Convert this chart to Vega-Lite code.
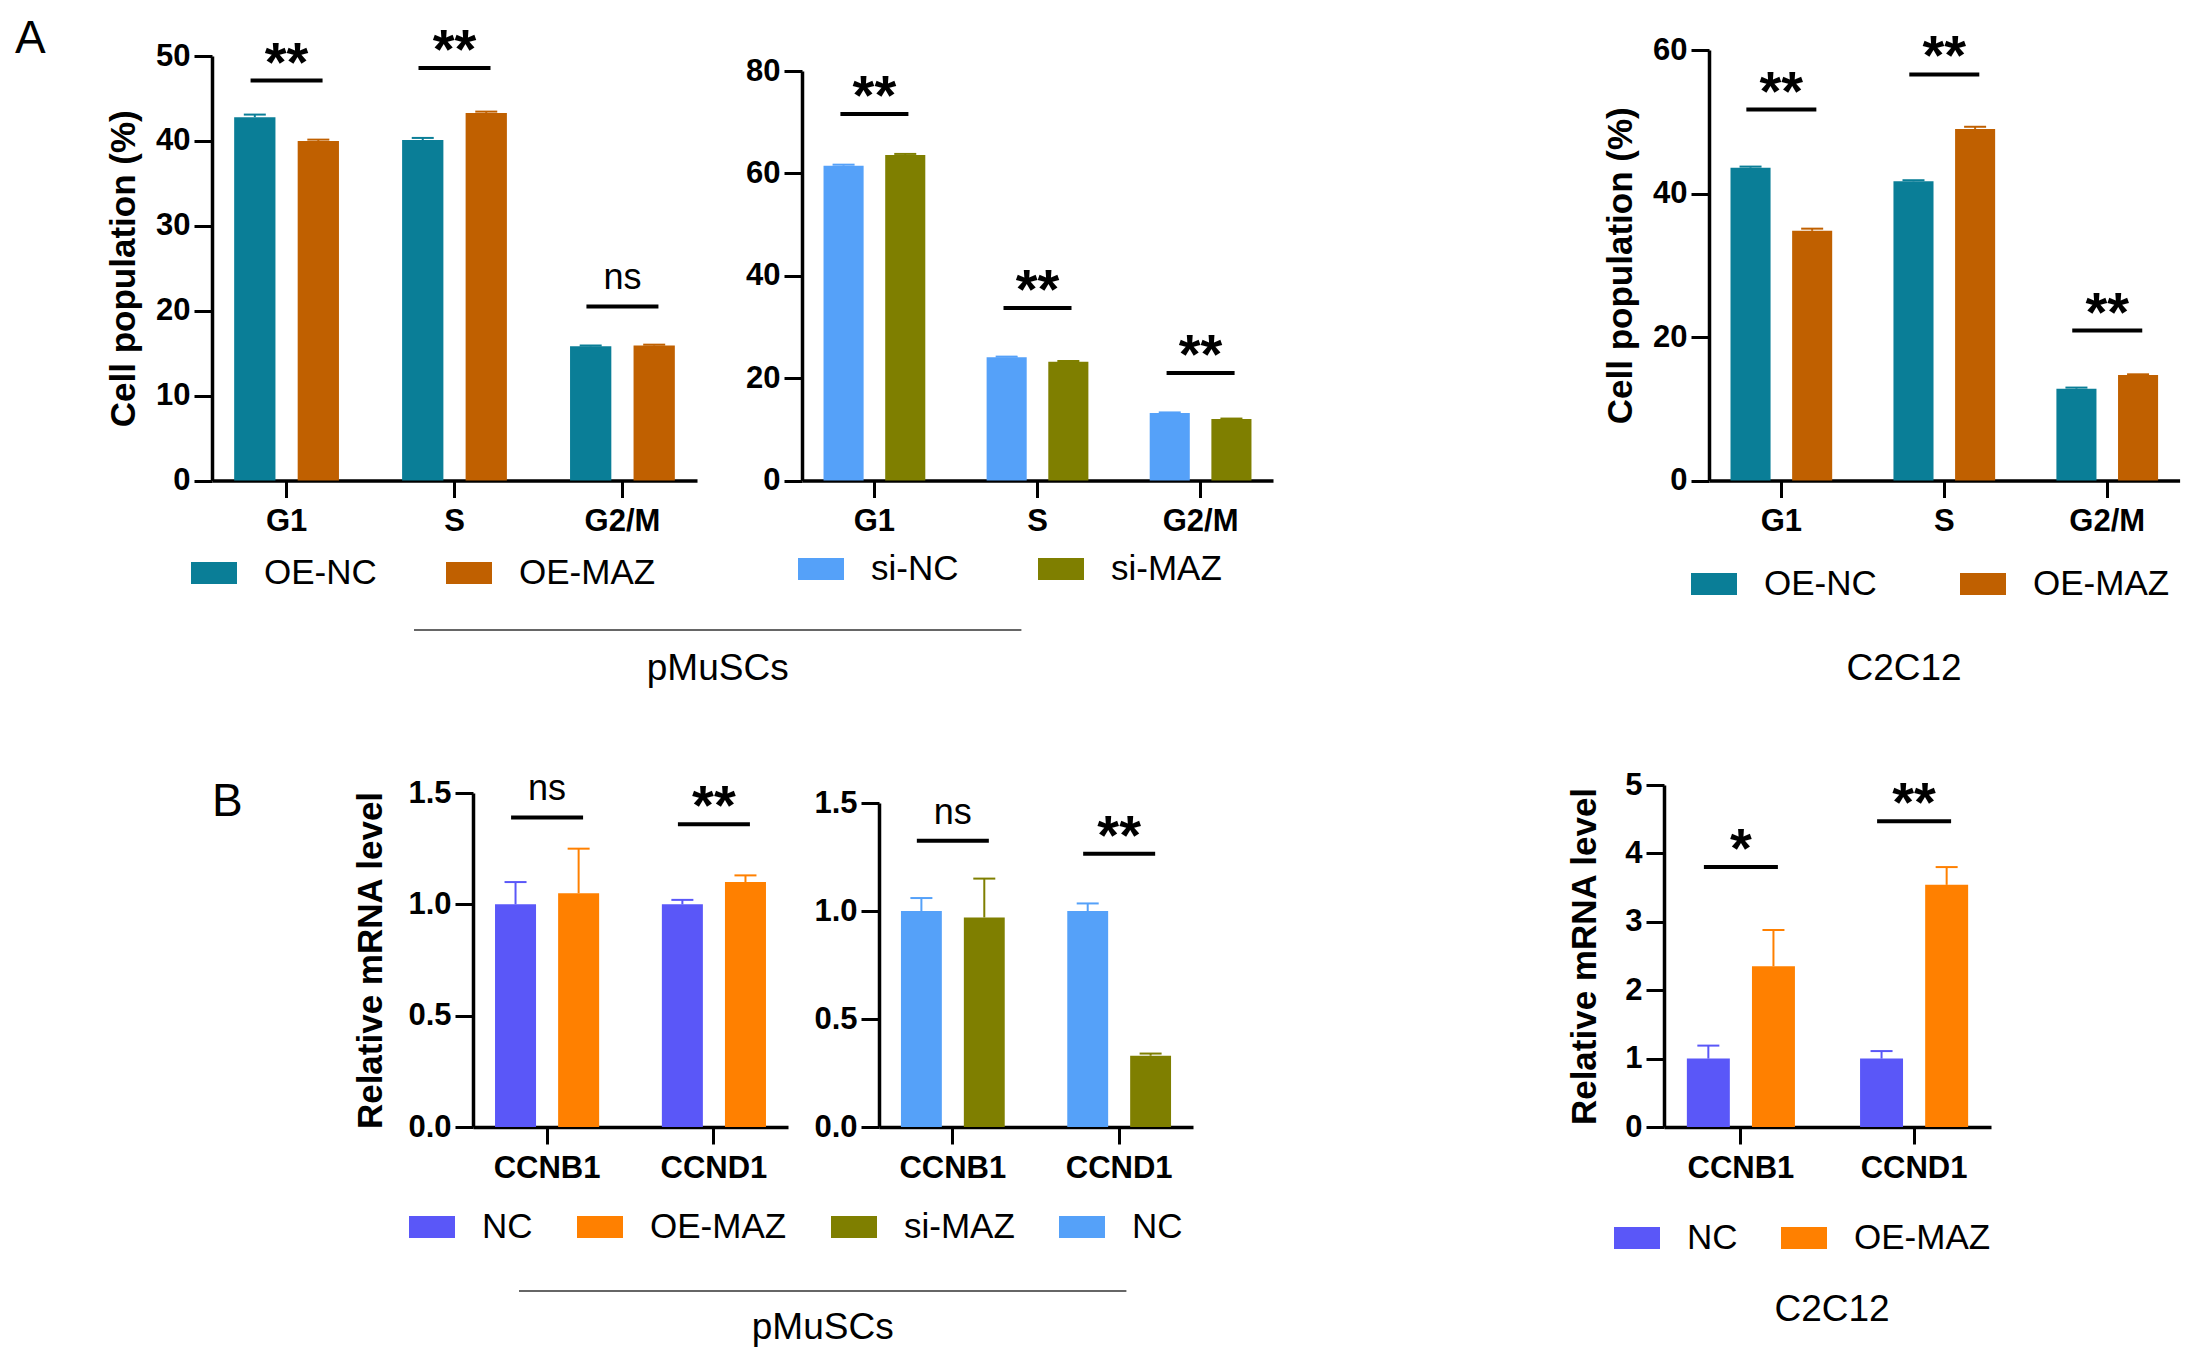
{
  "$schema": "https://vega.github.io/schema/vega-lite/v6.json",
  "background": "white",
  "padding": {"left": 15, "top": 15, "right": 5, "bottom": 5},
  "config": {
    "font": "Liberation Sans",
    "view": {"stroke": null},
    "axis": {
      "grid": false,
      "domainColor": "black",
      "domainWidth": 3.5,
      "tickColor": "black",
      "tickWidth": 3,
      "labelColor": "black",
      "labelFont": "Liberation Sans",
      "labelFontWeight": "bold",
      "labelFontSize": 31,
      "titleColor": "black",
      "titleFont": "Liberation Sans",
      "titleFontWeight": "bold",
      "titleFontSize": 35
    },
    "axisX": {"tickSize": 17, "labelPadding": 9, "labelAngle": 0},
    "axisY": {"tickSize": 18, "labelPadding": 4, "titlePadding": 14},
    "legend": {
      "direction": "horizontal",
      "symbolType": "M-1,-0.48H1V0.48H-1Z",
      "symbolSize": 2116,
      "symbolStrokeWidth": 0,
      "symbolOpacity": 1,
      "labelFont": "Liberation Sans",
      "labelFontSize": 35,
      "labelColor": "black",
      "labelOffset": 27,
      "labelLimit": 0,
      "padding": 0
    },
    "title": {"font": "Liberation Sans", "color": "black"}
  },
  "resolve": {"scale": {"color": "independent", "xOffset": "independent", "x": "independent", "y": "independent"}, "legend": {"color": "independent"}},
  "spacing": 82,
  "vconcat": [
    {
      "spacing": 27,
      "resolve": {"scale": {"color": "independent", "xOffset": "independent", "x": "independent", "y": "independent"}, "legend": {"color": "independent"}},
      "vconcat": [
        {
          "spacing": 0,
          "bounds": "flush",
          "resolve": {"scale": {"color": "independent", "xOffset": "independent", "x": "independent", "y": "independent"}, "legend": {"color": "independent"}},
          "hconcat": [
            {
              "width": 485,
              "height": 430.5,
              "title": {"text": "A", "anchor": "start", "frame": "group", "orient": "top", "offset": 0, "dx": -197, "dy": 76, "fontSize": 46, "fontWeight": "normal", "baseline": "alphabetic"},
              "data": {"values": [
                {"phase": "G1", "group": "OE-NC", "value": 42.8, "upper": 43.1},
                {"phase": "G1", "group": "OE-MAZ", "value": 40.0, "upper": 40.15},
                {"phase": "S", "group": "OE-NC", "value": 40.1, "upper": 40.35},
                {"phase": "S", "group": "OE-MAZ", "value": 43.3, "upper": 43.45},
                {"phase": "G2/M", "group": "OE-NC", "value": 15.8, "upper": 15.9},
                {"phase": "G2/M", "group": "OE-MAZ", "value": 15.9, "upper": 16.0}
              ]},
              "encoding": {
                "x": {"field": "phase", "type": "nominal", "sort": ["G1", "S", "G2/M"], "scale": {"paddingInner": 0.376, "paddingOuter": 0.132}, "axis": {"title": null}}
              },
              "layer": [
                {
                  "mark": {"type": "bar"},
                  "encoding": {
                    "xOffset": {"field": "group", "type": "nominal", "sort": ["OE-NC", "OE-MAZ"], "scale": {"paddingInner": 0.35, "paddingOuter": 0}},
                    "y": {"field": "value", "type": "quantitative", "scale": {"domain": [0, 50], "range": [430.5, 6], "nice": false, "zero": false}, "axis": {"title": "Cell population (%)", "values": [0, 10, 20, 30, 40, 50]}},
                    "color": {"field": "group", "type": "nominal", "scale": {"domain": ["OE-NC", "OE-MAZ"], "range": ["#0A7E97", "#C06000"]}, "legend": {"title": null, "orient": "none", "legendX": -21, "legendY": 500, "columnPadding": 69}}
                  }
                },
                {
                  "mark": {"type": "rule", "strokeWidth": 2},
                  "encoding": {
                    "xOffset": {"field": "group", "type": "nominal", "sort": ["OE-NC", "OE-MAZ"], "scale": {"paddingInner": 0.35, "paddingOuter": 0}},
                    "y": {"field": "value", "type": "quantitative", "scale": {"domain": [0, 50], "range": [430.5, 6], "nice": false, "zero": false}, "axis": {"title": "Cell population (%)", "values": [0, 10, 20, 30, 40, 50]}},
                    "y2": {"field": "upper"},
                    "color": {"field": "group", "type": "nominal", "scale": {"domain": ["OE-NC", "OE-MAZ"], "range": ["#0A7E97", "#C06000"]}, "legend": {"title": null, "orient": "none", "legendX": -21, "legendY": 500, "columnPadding": 69}}
                  }
                },
                {
                  "mark": {"type": "tick", "size": 22, "thickness": 2, "opacity": 1},
                  "encoding": {
                    "xOffset": {"field": "group", "type": "nominal", "sort": ["OE-NC", "OE-MAZ"], "scale": {"paddingInner": 0.35, "paddingOuter": 0}},
                    "y": {"field": "upper", "type": "quantitative", "scale": {"domain": [0, 50], "range": [430.5, 6], "nice": false, "zero": false}, "axis": {"title": "Cell population (%)", "values": [0, 10, 20, 30, 40, 50]}},
                    "color": {"field": "group", "type": "nominal", "scale": {"domain": ["OE-NC", "OE-MAZ"], "range": ["#0A7E97", "#C06000"]}, "legend": {"title": null, "orient": "none", "legendX": -21, "legendY": 500, "columnPadding": 69}}
                  }
                },
                {
                  "data": {"values": [
                    {"phase": "G1", "y": 47.1, "label": "**"},
                    {"phase": "S", "y": 48.6, "label": "**"},
                    {"phase": "G2/M", "y": 20.5, "label": "ns"}
                  ]},
                  "layer": [
                    {
                      "mark": {"type": "tick", "size": 72, "thickness": 4, "color": "black", "opacity": 1},
                      "encoding": {"y": {"field": "y", "type": "quantitative", "scale": {"domain": [0, 50], "range": [430.5, 6], "nice": false, "zero": false}, "axis": {"title": "Cell population (%)", "values": [0, 10, 20, 30, 40, 50]}}}
                    },
                    {
                      "transform": [{"filter": "datum.label != 'ns'"}],
                      "mark": {"type": "text", "fontSize": 56, "fontWeight": "bold", "baseline": "alphabetic", "dy": 0, "color": "black"},
                      "encoding": {"y": {"field": "y", "type": "quantitative", "scale": {"domain": [0, 50], "range": [430.5, 6], "nice": false, "zero": false}, "axis": {"title": "Cell population (%)", "values": [0, 10, 20, 30, 40, 50]}}, "text": {"field": "label"}}
                    },
                    {
                      "transform": [{"filter": "datum.label == 'ns'"}],
                      "mark": {"type": "text", "fontSize": 36, "baseline": "alphabetic", "dy": -17, "color": "black"},
                      "encoding": {"y": {"field": "y", "type": "quantitative", "scale": {"domain": [0, 50], "range": [430.5, 6], "nice": false, "zero": false}, "axis": {"title": "Cell population (%)", "values": [0, 10, 20, 30, 40, 50]}}, "text": {"field": "label"}}
                    }
                  ]
                }
              ]
            },
            {"width": 104.8, "height": 1, "data": {"values": []}, "mark": "point", "encoding": {}},
            {
              "width": 471,
              "height": 430.5,
              "data": {"values": [
                {"phase": "G1", "group": "si-NC", "value": 61.5, "upper": 61.7},
                {"phase": "G1", "group": "si-MAZ", "value": 63.6, "upper": 63.8},
                {"phase": "S", "group": "si-NC", "value": 24.1, "upper": 24.2},
                {"phase": "S", "group": "si-MAZ", "value": 23.2, "upper": 23.35},
                {"phase": "G2/M", "group": "si-NC", "value": 13.2, "upper": 13.3},
                {"phase": "G2/M", "group": "si-MAZ", "value": 12.0, "upper": 12.1}
              ]},
              "encoding": {
                "x": {"field": "phase", "type": "nominal", "sort": ["G1", "S", "G2/M"], "scale": {"paddingInner": 0.376, "paddingOuter": 0.132}, "axis": {"title": null}}
              },
              "layer": [
                {
                  "mark": {"type": "bar"},
                  "encoding": {
                    "xOffset": {"field": "group", "type": "nominal", "sort": ["si-NC", "si-MAZ"], "scale": {"paddingInner": 0.35, "paddingOuter": 0}},
                    "y": {"field": "value", "type": "quantitative", "scale": {"domain": [0, 80], "range": [430.5, 21], "nice": false, "zero": false}, "axis": {"title": null, "values": [0, 20, 40, 60, 80]}},
                    "color": {"field": "group", "type": "nominal", "scale": {"domain": ["si-NC", "si-MAZ"], "range": ["#55A1F9", "#7F7F00"]}, "legend": {"title": null, "orient": "none", "legendX": -4, "legendY": 496, "columnPadding": 79}}
                  }
                },
                {
                  "mark": {"type": "rule", "strokeWidth": 2},
                  "encoding": {
                    "xOffset": {"field": "group", "type": "nominal", "sort": ["si-NC", "si-MAZ"], "scale": {"paddingInner": 0.35, "paddingOuter": 0}},
                    "y": {"field": "value", "type": "quantitative", "scale": {"domain": [0, 80], "range": [430.5, 21], "nice": false, "zero": false}, "axis": {"title": null, "values": [0, 20, 40, 60, 80]}},
                    "y2": {"field": "upper"},
                    "color": {"field": "group", "type": "nominal", "scale": {"domain": ["si-NC", "si-MAZ"], "range": ["#55A1F9", "#7F7F00"]}, "legend": {"title": null, "orient": "none", "legendX": -4, "legendY": 496, "columnPadding": 79}}
                  }
                },
                {
                  "mark": {"type": "tick", "size": 22, "thickness": 2, "opacity": 1},
                  "encoding": {
                    "xOffset": {"field": "group", "type": "nominal", "sort": ["si-NC", "si-MAZ"], "scale": {"paddingInner": 0.35, "paddingOuter": 0}},
                    "y": {"field": "upper", "type": "quantitative", "scale": {"domain": [0, 80], "range": [430.5, 21], "nice": false, "zero": false}, "axis": {"title": null, "values": [0, 20, 40, 60, 80]}},
                    "color": {"field": "group", "type": "nominal", "scale": {"domain": ["si-NC", "si-MAZ"], "range": ["#55A1F9", "#7F7F00"]}, "legend": {"title": null, "orient": "none", "legendX": -4, "legendY": 496, "columnPadding": 79}}
                  }
                },
                {
                  "data": {"values": [
                    {"phase": "G1", "y": 71.6, "label": "**"},
                    {"phase": "S", "y": 33.7, "label": "**"},
                    {"phase": "G2/M", "y": 21.0, "label": "**"}
                  ]},
                  "layer": [
                    {
                      "mark": {"type": "tick", "size": 68, "thickness": 4, "color": "black", "opacity": 1},
                      "encoding": {"y": {"field": "y", "type": "quantitative", "scale": {"domain": [0, 80], "range": [430.5, 21], "nice": false, "zero": false}, "axis": {"title": null, "values": [0, 20, 40, 60, 80]}}}
                    },
                    {
                      "mark": {"type": "text", "fontSize": 56, "fontWeight": "bold", "baseline": "alphabetic", "dy": 0, "color": "black"},
                      "encoding": {"y": {"field": "y", "type": "quantitative", "scale": {"domain": [0, 80], "range": [430.5, 21], "nice": false, "zero": false}, "axis": {"title": null, "values": [0, 20, 40, 60, 80]}}, "text": {"field": "label"}}
                    }
                  ]
                }
              ]
            },
            {"width": 435.4, "height": 1, "data": {"values": []}, "mark": "point", "encoding": {}},
            {
              "width": 470.6,
              "height": 430.5,
              "data": {"values": [
                {"phase": "G1", "group": "OE-NC", "value": 43.6, "upper": 43.75},
                {"phase": "G1", "group": "OE-MAZ", "value": 34.8, "upper": 35.1},
                {"phase": "S", "group": "OE-NC", "value": 41.7, "upper": 41.85},
                {"phase": "S", "group": "OE-MAZ", "value": 49.0, "upper": 49.3},
                {"phase": "G2/M", "group": "OE-NC", "value": 12.8, "upper": 12.95},
                {"phase": "G2/M", "group": "OE-MAZ", "value": 14.7, "upper": 14.8}
              ]},
              "encoding": {
                "x": {"field": "phase", "type": "nominal", "sort": ["G1", "S", "G2/M"], "scale": {"paddingInner": 0.376, "paddingOuter": 0.132}, "axis": {"title": null}}
              },
              "layer": [
                {
                  "mark": {"type": "bar"},
                  "encoding": {
                    "xOffset": {"field": "group", "type": "nominal", "sort": ["OE-NC", "OE-MAZ"], "scale": {"paddingInner": 0.35, "paddingOuter": 0}},
                    "y": {"field": "value", "type": "quantitative", "scale": {"domain": [0, 60], "range": [430.5, 0], "nice": false, "zero": false}, "axis": {"title": "Cell population (%)", "values": [0, 20, 40, 60]}},
                    "color": {"field": "group", "type": "nominal", "scale": {"domain": ["OE-NC", "OE-MAZ"], "range": ["#0A7E97", "#C06000"]}, "legend": {"title": null, "orient": "none", "legendX": -18, "legendY": 511, "columnPadding": 83}}
                  }
                },
                {
                  "mark": {"type": "rule", "strokeWidth": 2},
                  "encoding": {
                    "xOffset": {"field": "group", "type": "nominal", "sort": ["OE-NC", "OE-MAZ"], "scale": {"paddingInner": 0.35, "paddingOuter": 0}},
                    "y": {"field": "value", "type": "quantitative", "scale": {"domain": [0, 60], "range": [430.5, 0], "nice": false, "zero": false}, "axis": {"title": "Cell population (%)", "values": [0, 20, 40, 60]}},
                    "y2": {"field": "upper"},
                    "color": {"field": "group", "type": "nominal", "scale": {"domain": ["OE-NC", "OE-MAZ"], "range": ["#0A7E97", "#C06000"]}, "legend": {"title": null, "orient": "none", "legendX": -18, "legendY": 511, "columnPadding": 83}}
                  }
                },
                {
                  "mark": {"type": "tick", "size": 22, "thickness": 2, "opacity": 1},
                  "encoding": {
                    "xOffset": {"field": "group", "type": "nominal", "sort": ["OE-NC", "OE-MAZ"], "scale": {"paddingInner": 0.35, "paddingOuter": 0}},
                    "y": {"field": "upper", "type": "quantitative", "scale": {"domain": [0, 60], "range": [430.5, 0], "nice": false, "zero": false}, "axis": {"title": "Cell population (%)", "values": [0, 20, 40, 60]}},
                    "color": {"field": "group", "type": "nominal", "scale": {"domain": ["OE-NC", "OE-MAZ"], "range": ["#0A7E97", "#C06000"]}, "legend": {"title": null, "orient": "none", "legendX": -18, "legendY": 511, "columnPadding": 83}}
                  }
                },
                {
                  "data": {"values": [
                    {"phase": "G1", "y": 51.7, "label": "**"},
                    {"phase": "S", "y": 56.6, "label": "**"},
                    {"phase": "G2/M", "y": 20.9, "label": "**"}
                  ]},
                  "layer": [
                    {
                      "mark": {"type": "tick", "size": 70, "thickness": 4, "color": "black", "opacity": 1},
                      "encoding": {"y": {"field": "y", "type": "quantitative", "scale": {"domain": [0, 60], "range": [430.5, 0], "nice": false, "zero": false}, "axis": {"title": "Cell population (%)", "values": [0, 20, 40, 60]}}}
                    },
                    {
                      "mark": {"type": "text", "fontSize": 56, "fontWeight": "bold", "baseline": "alphabetic", "dy": 0, "color": "black"},
                      "encoding": {"y": {"field": "y", "type": "quantitative", "scale": {"domain": [0, 60], "range": [430.5, 0], "nice": false, "zero": false}, "axis": {"title": "Cell population (%)", "values": [0, 20, 40, 60]}}, "text": {"field": "label"}}
                    }
                  ]
                }
              ]
            }
          ]
        },
        {
          "spacing": 0,
          "bounds": "flush",
          "hconcat": [
            {"width": 201.4, "height": 1, "data": {"values": []}, "mark": "point", "encoding": {}},
            {
              "width": 607.4,
              "height": 50,
              "data": {"values": [{"name": "pMuSCs"}]},
              "layer": [
                {
                  "mark": {"type": "rule", "color": "#333333", "strokeWidth": 1.6},
                  "encoding": {
                    "x": {"datum": 0, "type": "quantitative", "scale": {"domain": [0, 1]}, "axis": null},
                    "x2": {"datum": 1},
                    "y": {"datum": 1, "type": "quantitative", "scale": {"domain": [0, 1]}, "axis": null}
                  }
                },
                {
                  "mark": {"type": "text", "fontSize": 37, "baseline": "alphabetic", "align": "center", "color": "black"},
                  "encoding": {
                    "x": {"datum": 0.5, "type": "quantitative", "scale": {"domain": [0, 1]}, "axis": null},
                    "y": {"datum": 0, "type": "quantitative", "scale": {"domain": [0, 1]}, "axis": null},
                    "text": {"field": "name"}
                  }
                }
              ]
            },
            {"width": 781.1, "height": 1, "data": {"values": []}, "mark": "point", "encoding": {}},
            {
              "width": 200,
              "height": 50,
              "data": {"values": [{"name": "C2C12"}]},
              "mark": {"type": "text", "fontSize": 37, "baseline": "alphabetic", "align": "center", "color": "black"},
              "encoding": {
                "x": {"datum": 0.5, "type": "quantitative", "scale": {"domain": [0, 1]}, "axis": null},
                "y": {"datum": 0, "type": "quantitative", "scale": {"domain": [0, 1]}, "axis": null},
                "text": {"field": "name"}
              }
            }
          ]
        }
      ]
    },
    {
      "spacing": 34,
      "resolve": {"scale": {"color": "independent", "xOffset": "independent", "x": "independent", "y": "independent"}, "legend": {"color": "independent"}},
      "vconcat": [
        {
          "spacing": 0,
          "bounds": "flush",
          "resolve": {"scale": {"color": "independent", "xOffset": "independent", "x": "independent", "y": "independent"}, "legend": {"color": "independent"}},
          "hconcat": [
            {
              "width": 260.4,
              "height": 1,
              "title": {"text": "B", "anchor": "start", "frame": "group", "orient": "top", "offset": 0, "dy": 41, "baseline": "top", "fontSize": 46, "fontWeight": "normal"},
              "data": {"values": []},
              "mark": "point",
              "encoding": {}
            },
            {
              "width": 315,
              "height": 342,
              "data": {"values": [
                {"gene": "CCNB1", "group": "NC", "value": 1.0, "upper": 1.1},
                {"gene": "CCNB1", "group": "OE-MAZ", "value": 1.05, "upper": 1.25},
                {"gene": "CCND1", "group": "NC", "value": 1.0, "upper": 1.02},
                {"gene": "CCND1", "group": "OE-MAZ", "value": 1.1, "upper": 1.13}
              ]},
              "encoding": {
                "x": {"field": "gene", "type": "nominal", "sort": ["CCNB1", "CCND1"], "scale": {"paddingInner": 0.376, "paddingOuter": 0.132}, "axis": {"title": null}}
              },
              "layer": [
                {
                  "mark": {"type": "bar"},
                  "encoding": {
                    "xOffset": {"field": "group", "type": "nominal", "sort": ["NC", "OE-MAZ"], "scale": {"paddingInner": 0.35, "paddingOuter": 0}},
                    "y": {"field": "value", "type": "quantitative", "scale": {"domain": [0, 1.5], "range": [342, 8], "nice": false, "zero": false}, "axis": {"title": "Relative mRNA level", "titlePadding": 19, "values": [0, 0.5, 1, 1.5], "format": ".1f"}},
                    "color": {"field": "group", "type": "nominal", "scale": {"domain": ["NC", "OE-MAZ", "si-MAZ", "NC2"], "range": ["#5A57F8", "#FF8000", "#7F7F00", "#55A1F9"]}, "legend": {"title": null, "orient": "none", "legendX": -64, "legendY": 419, "columnPadding": 44, "labelExpr": "datum.label == 'NC2' ? 'NC' : datum.label"}}
                  }
                },
                {
                  "mark": {"type": "rule", "strokeWidth": 2},
                  "encoding": {
                    "xOffset": {"field": "group", "type": "nominal", "sort": ["NC", "OE-MAZ"], "scale": {"paddingInner": 0.35, "paddingOuter": 0}},
                    "y": {"field": "value", "type": "quantitative", "scale": {"domain": [0, 1.5], "range": [342, 8], "nice": false, "zero": false}, "axis": {"title": "Relative mRNA level", "titlePadding": 19, "values": [0, 0.5, 1, 1.5], "format": ".1f"}},
                    "y2": {"field": "upper"},
                    "color": {"field": "group", "type": "nominal", "scale": {"domain": ["NC", "OE-MAZ", "si-MAZ", "NC2"], "range": ["#5A57F8", "#FF8000", "#7F7F00", "#55A1F9"]}, "legend": {"title": null, "orient": "none", "legendX": -64, "legendY": 419, "columnPadding": 44, "labelExpr": "datum.label == 'NC2' ? 'NC' : datum.label"}}
                  }
                },
                {
                  "mark": {"type": "tick", "size": 22, "thickness": 2, "opacity": 1},
                  "encoding": {
                    "xOffset": {"field": "group", "type": "nominal", "sort": ["NC", "OE-MAZ"], "scale": {"paddingInner": 0.35, "paddingOuter": 0}},
                    "y": {"field": "upper", "type": "quantitative", "scale": {"domain": [0, 1.5], "range": [342, 8], "nice": false, "zero": false}, "axis": {"title": "Relative mRNA level", "titlePadding": 19, "values": [0, 0.5, 1, 1.5], "format": ".1f"}},
                    "color": {"field": "group", "type": "nominal", "scale": {"domain": ["NC", "OE-MAZ", "si-MAZ", "NC2"], "range": ["#5A57F8", "#FF8000", "#7F7F00", "#55A1F9"]}, "legend": {"title": null, "orient": "none", "legendX": -64, "legendY": 419, "columnPadding": 44, "labelExpr": "datum.label == 'NC2' ? 'NC' : datum.label"}}
                  }
                },
                {
                  "data": {"values": [
                    {"gene": "CCNB1", "y": 1.39, "label": "ns"},
                    {"gene": "CCND1", "y": 1.36, "label": "**"}
                  ]},
                  "layer": [
                    {
                      "mark": {"type": "tick", "size": 72, "thickness": 4, "color": "black", "opacity": 1},
                      "encoding": {"y": {"field": "y", "type": "quantitative", "scale": {"domain": [0, 1.5], "range": [342, 8], "nice": false, "zero": false}, "axis": {"title": "Relative mRNA level", "titlePadding": 19, "values": [0, 0.5, 1, 1.5], "format": ".1f"}}}
                    },
                    {
                      "transform": [{"filter": "datum.label != 'ns'"}],
                      "mark": {"type": "text", "fontSize": 56, "fontWeight": "bold", "baseline": "alphabetic", "dy": 0, "color": "black"},
                      "encoding": {"y": {"field": "y", "type": "quantitative", "scale": {"domain": [0, 1.5], "range": [342, 8], "nice": false, "zero": false}, "axis": {"title": "Relative mRNA level", "titlePadding": 19, "values": [0, 0.5, 1, 1.5], "format": ".1f"}}, "text": {"field": "label"}}
                    },
                    {
                      "transform": [{"filter": "datum.label == 'ns'"}],
                      "mark": {"type": "text", "fontSize": 36, "baseline": "alphabetic", "dy": -17, "color": "black"},
                      "encoding": {"y": {"field": "y", "type": "quantitative", "scale": {"domain": [0, 1.5], "range": [342, 8], "nice": false, "zero": false}, "axis": {"title": "Relative mRNA level", "titlePadding": 19, "values": [0, 0.5, 1, 1.5], "format": ".1f"}}, "text": {"field": "label"}}
                    }
                  ]
                }
              ]
            },
            {"width": 90.5, "height": 1, "data": {"values": []}, "mark": "point", "encoding": {}},
            {
              "width": 314,
              "height": 342,
              "data": {"values": [
                {"gene": "CCNB1", "group": "NC2", "value": 1.0, "upper": 1.06},
                {"gene": "CCNB1", "group": "si-MAZ", "value": 0.97, "upper": 1.15},
                {"gene": "CCND1", "group": "NC2", "value": 1.0, "upper": 1.035},
                {"gene": "CCND1", "group": "si-MAZ", "value": 0.33, "upper": 0.34}
              ]},
              "encoding": {
                "x": {"field": "gene", "type": "nominal", "sort": ["CCNB1", "CCND1"], "scale": {"paddingInner": 0.376, "paddingOuter": 0.132}, "axis": {"title": null}}
              },
              "layer": [
                {
                  "mark": {"type": "bar"},
                  "encoding": {
                    "xOffset": {"field": "group", "type": "nominal", "sort": ["NC2", "si-MAZ"], "scale": {"paddingInner": 0.35, "paddingOuter": 0}},
                    "y": {"field": "value", "type": "quantitative", "scale": {"domain": [0, 1.5], "range": [342, 18], "nice": false, "zero": false}, "axis": {"title": null, "values": [0, 0.5, 1, 1.5], "format": ".1f"}},
                    "color": {"field": "group", "type": "nominal", "scale": {"domain": ["NC2", "si-MAZ"], "range": ["#55A1F9", "#7F7F00"]}, "legend": null}
                  }
                },
                {
                  "mark": {"type": "rule", "strokeWidth": 2},
                  "encoding": {
                    "xOffset": {"field": "group", "type": "nominal", "sort": ["NC2", "si-MAZ"], "scale": {"paddingInner": 0.35, "paddingOuter": 0}},
                    "y": {"field": "value", "type": "quantitative", "scale": {"domain": [0, 1.5], "range": [342, 18], "nice": false, "zero": false}, "axis": {"title": null, "values": [0, 0.5, 1, 1.5], "format": ".1f"}},
                    "y2": {"field": "upper"},
                    "color": {"field": "group", "type": "nominal", "scale": {"domain": ["NC2", "si-MAZ"], "range": ["#55A1F9", "#7F7F00"]}, "legend": null}
                  }
                },
                {
                  "mark": {"type": "tick", "size": 22, "thickness": 2, "opacity": 1},
                  "encoding": {
                    "xOffset": {"field": "group", "type": "nominal", "sort": ["NC2", "si-MAZ"], "scale": {"paddingInner": 0.35, "paddingOuter": 0}},
                    "y": {"field": "upper", "type": "quantitative", "scale": {"domain": [0, 1.5], "range": [342, 18], "nice": false, "zero": false}, "axis": {"title": null, "values": [0, 0.5, 1, 1.5], "format": ".1f"}},
                    "color": {"field": "group", "type": "nominal", "scale": {"domain": ["NC2", "si-MAZ"], "range": ["#55A1F9", "#7F7F00"]}, "legend": null}
                  }
                },
                {
                  "data": {"values": [
                    {"gene": "CCNB1", "y": 1.325, "label": "ns"},
                    {"gene": "CCND1", "y": 1.265, "label": "**"}
                  ]},
                  "layer": [
                    {
                      "mark": {"type": "tick", "size": 72, "thickness": 4, "color": "black", "opacity": 1},
                      "encoding": {"y": {"field": "y", "type": "quantitative", "scale": {"domain": [0, 1.5], "range": [342, 18], "nice": false, "zero": false}, "axis": {"title": null, "values": [0, 0.5, 1, 1.5], "format": ".1f"}}}
                    },
                    {
                      "transform": [{"filter": "datum.label != 'ns'"}],
                      "mark": {"type": "text", "fontSize": 56, "fontWeight": "bold", "baseline": "alphabetic", "dy": 0, "color": "black"},
                      "encoding": {"y": {"field": "y", "type": "quantitative", "scale": {"domain": [0, 1.5], "range": [342, 18], "nice": false, "zero": false}, "axis": {"title": null, "values": [0, 0.5, 1, 1.5], "format": ".1f"}}, "text": {"field": "label"}}
                    },
                    {
                      "transform": [{"filter": "datum.label == 'ns'"}],
                      "mark": {"type": "text", "fontSize": 36, "baseline": "alphabetic", "dy": -17, "color": "black"},
                      "encoding": {"y": {"field": "y", "type": "quantitative", "scale": {"domain": [0, 1.5], "range": [342, 18], "nice": false, "zero": false}, "axis": {"title": null, "values": [0, 0.5, 1, 1.5], "format": ".1f"}}, "text": {"field": "label"}}
                    }
                  ]
                }
              ]
            },
            {"width": 470.5, "height": 1, "data": {"values": []}, "mark": "point", "encoding": {}},
            {
              "width": 327,
              "height": 342,
              "data": {"values": [
                {"gene": "CCNB1", "group": "NC", "value": 1.0, "upper": 1.19},
                {"gene": "CCNB1", "group": "OE-MAZ", "value": 2.35, "upper": 2.88},
                {"gene": "CCND1", "group": "NC", "value": 1.0, "upper": 1.11},
                {"gene": "CCND1", "group": "OE-MAZ", "value": 3.54, "upper": 3.8}
              ]},
              "encoding": {
                "x": {"field": "gene", "type": "nominal", "sort": ["CCNB1", "CCND1"], "scale": {"paddingInner": 0.376, "paddingOuter": 0.132}, "axis": {"title": null}}
              },
              "layer": [
                {
                  "mark": {"type": "bar"},
                  "encoding": {
                    "xOffset": {"field": "group", "type": "nominal", "sort": ["NC", "OE-MAZ"], "scale": {"paddingInner": 0.34, "paddingOuter": 0}},
                    "y": {"field": "value", "type": "quantitative", "scale": {"domain": [0, 5], "range": [342, 0], "nice": false, "zero": false}, "axis": {"title": "Relative mRNA level", "titlePadding": 22, "values": [0, 1, 2, 3, 4, 5]}},
                    "color": {"field": "group", "type": "nominal", "scale": {"domain": ["NC", "OE-MAZ"], "range": ["#5A57F8", "#FF8000"]}, "legend": {"title": null, "orient": "none", "legendX": -50, "legendY": 430, "columnPadding": 43}}
                  }
                },
                {
                  "mark": {"type": "rule", "strokeWidth": 2},
                  "encoding": {
                    "xOffset": {"field": "group", "type": "nominal", "sort": ["NC", "OE-MAZ"], "scale": {"paddingInner": 0.34, "paddingOuter": 0}},
                    "y": {"field": "value", "type": "quantitative", "scale": {"domain": [0, 5], "range": [342, 0], "nice": false, "zero": false}, "axis": {"title": "Relative mRNA level", "titlePadding": 22, "values": [0, 1, 2, 3, 4, 5]}},
                    "y2": {"field": "upper"},
                    "color": {"field": "group", "type": "nominal", "scale": {"domain": ["NC", "OE-MAZ"], "range": ["#5A57F8", "#FF8000"]}, "legend": {"title": null, "orient": "none", "legendX": -50, "legendY": 430, "columnPadding": 43}}
                  }
                },
                {
                  "mark": {"type": "tick", "size": 22, "thickness": 2, "opacity": 1},
                  "encoding": {
                    "xOffset": {"field": "group", "type": "nominal", "sort": ["NC", "OE-MAZ"], "scale": {"paddingInner": 0.34, "paddingOuter": 0}},
                    "y": {"field": "upper", "type": "quantitative", "scale": {"domain": [0, 5], "range": [342, 0], "nice": false, "zero": false}, "axis": {"title": "Relative mRNA level", "titlePadding": 22, "values": [0, 1, 2, 3, 4, 5]}},
                    "color": {"field": "group", "type": "nominal", "scale": {"domain": ["NC", "OE-MAZ"], "range": ["#5A57F8", "#FF8000"]}, "legend": {"title": null, "orient": "none", "legendX": -50, "legendY": 430, "columnPadding": 43}}
                  }
                },
                {
                  "data": {"values": [
                    {"gene": "CCNB1", "y": 3.8, "label": "*"},
                    {"gene": "CCND1", "y": 4.47, "label": "**"}
                  ]},
                  "layer": [
                    {
                      "mark": {"type": "tick", "size": 74, "thickness": 4, "color": "black", "opacity": 1},
                      "encoding": {"y": {"field": "y", "type": "quantitative", "scale": {"domain": [0, 5], "range": [342, 0], "nice": false, "zero": false}, "axis": {"title": "Relative mRNA level", "titlePadding": 22, "values": [0, 1, 2, 3, 4, 5]}}}
                    },
                    {
                      "mark": {"type": "text", "fontSize": 56, "fontWeight": "bold", "baseline": "alphabetic", "dy": 0, "color": "black"},
                      "encoding": {"y": {"field": "y", "type": "quantitative", "scale": {"domain": [0, 5], "range": [342, 0], "nice": false, "zero": false}, "axis": {"title": "Relative mRNA level", "titlePadding": 22, "values": [0, 1, 2, 3, 4, 5]}}, "text": {"field": "label"}}
                    }
                  ]
                }
              ]
            }
          ]
        },
        {
          "spacing": 0,
          "bounds": "flush",
          "hconcat": [
            {"width": 307, "height": 1, "data": {"values": []}, "mark": "point", "encoding": {}},
            {
              "width": 607.4,
              "height": 48,
              "data": {"values": [{"name": "pMuSCs"}]},
              "layer": [
                {
                  "mark": {"type": "rule", "color": "#333333", "strokeWidth": 1.6},
                  "encoding": {
                    "x": {"datum": 0, "type": "quantitative", "scale": {"domain": [0, 1]}, "axis": null},
                    "x2": {"datum": 1},
                    "y": {"datum": 1, "type": "quantitative", "scale": {"domain": [0, 1]}, "axis": null}
                  }
                },
                {
                  "mark": {"type": "text", "fontSize": 37, "baseline": "alphabetic", "align": "center", "color": "black"},
                  "encoding": {
                    "x": {"datum": 0.5, "type": "quantitative", "scale": {"domain": [0, 1]}, "axis": null},
                    "y": {"datum": 0, "type": "quantitative", "scale": {"domain": [0, 1]}, "axis": null},
                    "text": {"field": "name"}
                  }
                }
              ]
            },
            {"width": 605, "height": 1, "data": {"values": []}, "mark": "point", "encoding": {}},
            {
              "width": 200,
              "height": 30,
              "data": {"values": [{"name": "C2C12"}]},
              "mark": {"type": "text", "fontSize": 37, "baseline": "alphabetic", "align": "center", "color": "black"},
              "encoding": {
                "x": {"datum": 0.5, "type": "quantitative", "scale": {"domain": [0, 1]}, "axis": null},
                "y": {"datum": 0, "type": "quantitative", "scale": {"domain": [0, 1]}, "axis": null},
                "text": {"field": "name"}
              }
            }
          ]
        }
      ]
    }
  ]
}
